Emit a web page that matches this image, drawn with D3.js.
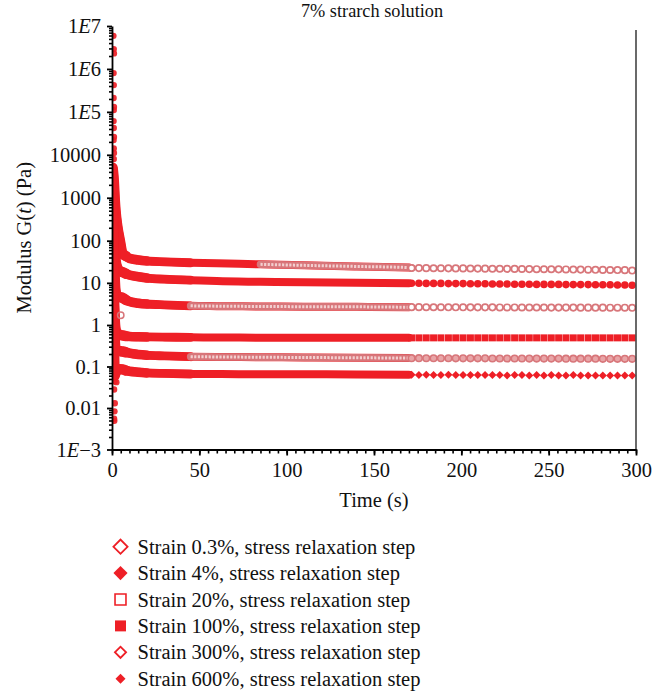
<!DOCTYPE html>
<html><head><meta charset="utf-8">
<script src="https://cdn.jsdelivr.net/npm/d3@7"></script>
<style>
body{margin:0;background:#fff;}
text{font-family:"Liberation Serif","Times New Roman",serif;fill:#111;}
</style>
</head><body>
<svg id="chart" width="665" height="695"></svg>
<script>
// ---------- DATA ----------
const chartTitle = "7% strarch solution";
const seriesLabels = [
  "Strain 0.3%, stress relaxation step",
  "Strain 4%, stress relaxation step",
  "Strain 20%, stress relaxation step",
  "Strain 100%, stress relaxation step",
  "Strain 300%, stress relaxation step",
  "Strain 600%, stress relaxation step"
];
// early dense part (markers overlap into a band)
const bandTimes = [0.3, 0.6, 1, 1.5, 2, 3, 4.5, 6, 8, 10, 15, 20, 30, 45, 60, 85, 110, 140, 170];
const band03  = [5000, 4000, 2500, 1000, 500, 220, 100, 50, 43, 38, 35, 33, 31.5, 30, 29, 27.5, 26, 24.5, 23];
const band4   = [2000, 800, 250, 80, 35, 23, 19, 18, 16.5, 15.3, 14, 13, 12.2, 11.6, 11, 10.6, 10.3, 10, 9.8];
const band20  = [1500, 400, 60, 14, 6.5, 4.9, 4.6, 4.4, 3.9, 3.6, 3.3, 3.15, 3.0, 2.85, 2.8, 2.75, 2.72, 2.7, 2.65];
const band100 = [1000, 100, 8, 1.5, 0.8, 0.62, 0.58, 0.56, 0.54, 0.53, 0.52, 0.515, 0.51, 0.505, 0.5, 0.495, 0.49, 0.49, 0.49];
const band300 = [800, 50, 3, 0.5, 0.28, 0.24, 0.235, 0.23, 0.22, 0.21, 0.195, 0.187, 0.18, 0.172, 0.17, 0.167, 0.165, 0.162, 0.16];
const band600 = [600, 30, 1, 0.06, 0.07, 0.08, 0.086, 0.085, 0.08, 0.077, 0.073, 0.07, 0.068, 0.066, 0.066, 0.065, 0.065, 0.064, 0.063];
// late sparse part (individual markers)
const sparseTimes = [171.5,175.7,179.9,184.1,188.3,192.6,196.8,201.0,205.2,209.4,213.6,217.8,222.0,226.2,230.5,234.7,238.9,243.1,247.3,251.5,255.7,259.9,264.1,268.3,272.6,276.8,281.0,285.2,289.4,293.6,297.8];
const sparse03  = [22.5,22.4,22.3,22.2,22.2,22.1,22.0,22.0,21.9,21.8,21.7,21.6,21.6,21.5,21.4,21.3,21.2,21.1,21.0,21.0,20.9,20.8,20.7,20.6,20.5,20.4,20.3,20.2,20.1,20.0,19.6];
const sparse4   = [9.8,9.8,9.7,9.7,9.7,9.6,9.6,9.6,9.5,9.5,9.5,9.4,9.4,9.4,9.3,9.3,9.3,9.2,9.2,9.2,9.2,9.1,9.1,9.1,9.1,9.0,9.0,9.0,8.9,8.9,8.8];
const sparse20  = [2.65,2.65,2.64,2.64,2.64,2.63,2.63,2.63,2.62,2.62,2.62,2.62,2.61,2.61,2.61,2.60,2.60,2.60,2.60,2.59,2.59,2.59,2.59,2.58,2.58,2.58,2.58,2.57,2.57,2.57,2.56];
const sparse100 = [0.49,0.49,0.49,0.49,0.49,0.49,0.49,0.49,0.49,0.49,0.49,0.49,0.49,0.49,0.49,0.49,0.49,0.49,0.49,0.49,0.49,0.49,0.49,0.49,0.49,0.49,0.49,0.49,0.49,0.49,0.49];
const sparse300 = [0.159,0.159,0.158,0.158,0.158,0.158,0.157,0.157,0.157,0.157,0.157,0.156,0.156,0.156,0.156,0.156,0.155,0.155,0.155,0.155,0.155,0.154,0.154,0.154,0.154,0.154,0.153,0.153,0.153,0.153,0.153];
const sparse600 = [0.063,0.062,0.063,0.062,0.062,0.063,0.062,0.062,0.062,0.062,0.062,0.062,0.062,0.061,0.062,0.062,0.061,0.062,0.061,0.062,0.061,0.061,0.062,0.061,0.061,0.061,0.061,0.061,0.061,0.061,0.061];
// initial spike points near t = 0
const spikeTimes  = [0.8, 1.0, 1.1, 0.9, 1.0, 0.9, 1.1, 1.0, 0.9, 1.0, 1.1, 0.9, 1.0, 1.1, 1.0, 1.0, 1.5, 2.5, 1.2, 1.6, 1.4, 1.2, 1.3];
const spikeValues = [5.9e6, 2.9e6, 2.3e6, 8e5, 4.2e5, 2.1e5, 1.3e5, 1.1e5, 6.1e4, 4.2e4, 2.6e4, 2.2e4, 1.4e4, 1.1e4, 8e3, 4.9e3, 0.044, 0.042, 0.028, 0.013, 0.0083, 0.0055, 0.0049];
const strayTimes  = [5];
const strayValues = [1.7];
// axes
const xTickValues = [0, 50, 100, 150, 200, 250, 300];
const yTickValues = [1e-3, 1e-2, 0.1, 1, 10, 100, 1000, 1e4, 1e5, 1e6, 1e7];
const yTickLabels = ["1E−3", "0.01", "0.1", "1", "10", "100", "1000", "10000", "1E5", "1E6", "1E7"];

// ---------- STYLE ----------
const RED = "#ee1f26", PINK = "#d8767a", PINK_LIGHT = "#f3cfd0";
const series = [
  {label: seriesLabels[0], band: band03,  sparse: sparse03,  chainFrom: 85, mk: "ocircle", leg: "odiamond", legSize: 100},
  {label: seriesLabels[1], band: band4,   sparse: sparse4,   chainFrom: null, mk: "fcircle", leg: "fdiamond", legSize: 100},
  {label: seriesLabels[2], band: band20,  sparse: sparse20,  chainFrom: 45, mk: "ocircle", leg: "osquare", legSize: 120},
  {label: seriesLabels[3], band: band100, sparse: sparse100, chainFrom: null, mk: "fsquare", leg: "fsquare", legSize: 120},
  {label: seriesLabels[4], band: band300, sparse: sparse300, chainFrom: 35, mk: "pcircle", leg: "odiamond", legSize: 62},
  {label: seriesLabels[5], band: band600, sparse: sparse600, chainFrom: null, mk: "fdiamond", leg: "fdiamond", legSize: 50}
];

const svg = d3.select("#chart");
const x = d3.scaleLinear().domain([0, 300]).range([112, 636]);
const y = d3.scaleLog().domain([1e-3, 1, 100, 1e7]).range([449.5, 325, 240.7, 26]);

svg.append("defs").append("clipPath").attr("id", "plotclip")
  .append("rect").attr("x", 112).attr("y", 15).attr("width", 530).attr("height", 436);

const plot = svg.append("g").attr("clip-path", "url(#plotclip)");

// right frame line
svg.append("line").attr("x1", x(300)).attr("x2", x(300)).attr("y1", 30).attr("y2", y(1e-3))
  .attr("stroke", "#444").attr("stroke-width", 1.6);

const line = d3.line().x(d => x(d[0])).y(d => y(d[1])).curve(d3.curveMonotoneX);

// band drawn in tapering layers (dense early data looks thicker)
const layers = [{upTo: 170, w: 8}, {upTo: 45, w: 8.8}, {upTo: 20, w: 9.6}, {upTo: 8, w: 10.5}];
series.forEach(s => {
  const pts = bandTimes.map((t, i) => [t, s.band[i]]);
  layers.forEach(L => {
    plot.append("path").attr("d", line(pts.filter(d => d[0] <= L.upTo))).attr("fill", "none")
      .attr("stroke", RED).attr("stroke-width", L.w).attr("stroke-linecap", "round").attr("stroke-linejoin", "round");
  });
});
series.forEach(s => {
  if (s.chainFrom == null) return;
  const pts = bandTimes.map((t, i) => [t, s.band[i]]).filter(d => d[0] >= s.chainFrom);
  pts.push([sparseTimes[0], s.sparse[0]]);
  plot.append("path").attr("d", line(pts)).attr("fill", "none")
    .attr("stroke", PINK).attr("stroke-width", 7.5).attr("stroke-linecap", "round");
  plot.append("path").attr("d", line(pts)).attr("fill", "none")
    .attr("stroke", PINK_LIGHT).attr("stroke-width", 3).attr("stroke-dasharray", "2.2,1.4");
});

function drawMarker(g, type, cx, cy) {
  if (type === "ocircle") {
    g.append("circle").attr("cx", cx).attr("cy", cy).attr("r", 3.2).attr("fill", "#fff").attr("stroke", PINK).attr("stroke-width", 1.7);
  } else if (type === "fcircle") {
    g.append("circle").attr("cx", cx).attr("cy", cy).attr("r", 3.8).attr("fill", RED);
  } else if (type === "pcircle") {
    g.append("circle").attr("cx", cx).attr("cy", cy).attr("r", 3.3).attr("fill", "#e8a5a7").attr("stroke", PINK).attr("stroke-width", 1.6);
  } else if (type === "fsquare") {
    g.append("path").attr("transform", `translate(${cx},${cy})`).attr("d", d3.symbol(d3.symbolSquare, 49)()).attr("fill", RED);
  } else if (type === "fdiamond") {
    g.append("path").attr("transform", `translate(${cx},${cy}) rotate(45)`).attr("d", d3.symbol(d3.symbolSquare, 32)()).attr("fill", RED);
  }
}

series.forEach(s => {
  const g = plot.append("g");
  sparseTimes.forEach((t, i) => drawMarker(g, s.mk, x(t), y(s.sparse[i])));
});

plot.append("g").selectAll("circle").data(spikeTimes).join("circle")
  .attr("cx", d => x(d)).attr("cy", (d, i) => y(spikeValues[i])).attr("r", 3.2).attr("fill", RED).attr("opacity", 0.92);
plot.append("g").selectAll("circle").data(strayTimes).join("circle")
  .attr("cx", d => x(d)).attr("cy", (d, i) => y(strayValues[i])).attr("r", 3.2)
  .attr("fill", "none").attr("stroke", PINK).attr("stroke-width", 1.5);

// ---------- AXES ----------
const fontSize = 20.5;
const minorY = [];
for (let k = -3; k < 7; k++) for (let m = 2; m <= 9; m++) minorY.push(m * Math.pow(10, k));
svg.append("g").attr("transform", `translate(${x(0)},0)`)
  .call(d3.axisLeft(y).tickValues(minorY).tickSize(3).tickFormat(""))
  .call(g => g.select(".domain").remove())
  .call(g => g.selectAll("line").attr("stroke", "#000").attr("stroke-width", 1.6));

const yAxis = svg.append("g").attr("transform", `translate(${x(0)},0)`)
  .call(d3.axisLeft(y).tickValues(yTickValues).tickSize(5).tickSizeOuter(0).tickPadding(6)
    .tickFormat((d, i) => yTickLabels[i]));
yAxis.select(".domain").attr("stroke", "#000").attr("stroke-width", 1.8);
yAxis.selectAll(".tick line").attr("stroke", "#000").attr("stroke-width", 1.8);
yAxis.selectAll(".tick text").attr("font-size", fontSize).attr("fill", "#111")
  .style("font-family", '"Liberation Serif", serif')
  .each(function(d, i) {
    const lab = yTickLabels[i];
    if (lab.indexOf("E") >= 0) {
      const parts = lab.split("E");
      const t = d3.select(this).text("");
      t.append("tspan").text(parts[0]);
      t.append("tspan").attr("font-style", "italic").text("E");
      t.append("tspan").text(parts[1]);
    }
  });

const minorX = d3.range(0, 301, 5);
svg.append("g").attr("transform", `translate(0,${y(1e-3)})`)
  .call(d3.axisBottom(x).tickValues(minorX).tickSize(4).tickFormat(""))
  .call(g => g.select(".domain").remove())
  .call(g => g.selectAll("line").attr("stroke", "#000").attr("stroke-width", 1.6));
const xAxis = svg.append("g").attr("transform", `translate(0,${y(1e-3)})`)
  .call(d3.axisBottom(x).tickValues(xTickValues).tickSize(6).tickSizeOuter(0).tickPadding(7));
xAxis.select(".domain").attr("stroke", "#000").attr("stroke-width", 1.8);
xAxis.selectAll(".tick line").attr("stroke", "#000").attr("stroke-width", 1.8);
xAxis.selectAll(".tick text").attr("font-size", fontSize).attr("fill", "#111")
  .style("font-family", '"Liberation Serif", serif');

// titles
svg.append("text").attr("x", 372).attr("y", 17).attr("text-anchor", "middle")
  .attr("font-size", 18.3).text(chartTitle);
svg.append("text").attr("x", 374).attr("y", 507).attr("text-anchor", "middle")
  .attr("font-size", fontSize).text("Time (s)");
const yl = svg.append("text").attr("transform", `translate(31,${(y(1e7) + y(1e-3)) / 2}) rotate(-90)`)
  .attr("text-anchor", "middle").attr("font-size", fontSize);
yl.append("tspan").text("Modulus G(");
yl.append("tspan").attr("font-style", "italic").text("t");
yl.append("tspan").text(") (Pa)");

// ---------- LEGEND ----------
const legend = svg.append("g");
series.forEach((s, i) => {
  const cy = 546.7 + i * 26.4, cx = 120.5;
  const t = s.leg;
  const g = legend.append("g").attr("transform", `translate(${cx},${cy})`);
  if (t === "odiamond" || t === "fdiamond") {
    g.append("path").attr("transform", "rotate(45)").attr("d", d3.symbol(d3.symbolSquare, s.legSize)())
      .attr("fill", t === "fdiamond" ? RED : "#fff").attr("stroke", RED).attr("stroke-width", t === "fdiamond" ? 0 : 1.8);
  } else {
    g.append("path").attr("d", d3.symbol(d3.symbolSquare, s.legSize)())
      .attr("fill", t === "fsquare" ? RED : "#fff").attr("stroke", RED).attr("stroke-width", t === "fsquare" ? 0 : 1.6);
  }
  legend.append("text").attr("x", 137.5).attr("y", cy).attr("dy", "0.35em")
    .attr("font-size", fontSize).text(s.label);
});
</script>
</body></html>
